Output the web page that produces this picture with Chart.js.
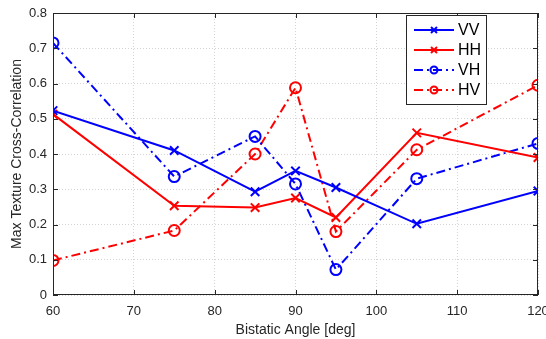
<!DOCTYPE html>
<html>
<head>
<meta charset="utf-8">
<script src="https://cdn.jsdelivr.net/npm/chart.js@4"></script>
<style>
  html, body { margin: 0; padding: 0; background: #fff; }
  #wrap { width: 546px; height: 339px; }
</style>
</head>
<body>
<div id="wrap"><canvas id="chart" width="546" height="339"></canvas></div>
<script>
// Bistatic angles (deg)
const angles = [60, 75, 85, 90, 95, 105, 120];

// Max texture cross-correlation per polarisation
const vv = [0.523, 0.410, 0.293, 0.352, 0.305, 0.202, 0.295];
const hh = [0.513, 0.253, 0.248, 0.275, 0.220, 0.460, 0.390];
const vh = [0.715, 0.336, 0.450, 0.315, 0.072, 0.330, 0.430];
const hv = [0.098, 0.183, 0.400, 0.588, 0.180, 0.412, 0.595];

const seriesNames = ['VV', 'HH', 'VH', 'HV'];

const BLUE = '#0000ff';
const RED = '#ff0000';
const DASHDOT = [9, 4, 2, 4];
const FONT = '"Liberation Sans", Arial, sans-serif';

function pts(vals) {
    return vals.map((v, i) => ({ x: angles[i], y: v }));
}

function makeSet(label, vals, color, marker, dash) {
    return {
        label: label,
        data: pts(vals),
        borderColor: color,
        backgroundColor: color,
        borderWidth: 2,
        borderDash: dash,
        pointStyle: marker,
        pointRadius: marker === 'circle' ? 5.5 : 6,
        pointBorderWidth: 2,
        pointBorderColor: color,
        pointBackgroundColor: marker === 'circle' ? 'rgba(255,255,255,0)' : color,
        tension: 0
    };
}

// box, inward ticks and inset legend like the original figure
const boxPlugin = {
    id: 'boxPlugin',
    afterDatasetsDraw(chart) {
        const { ctx, chartArea: a, scales } = chart;
        ctx.save();
        ctx.strokeStyle = '#262626';
        ctx.lineWidth = 1;
        ctx.setLineDash([]);
        ctx.strokeRect(a.left + 0.5, a.top + 0.5, a.right - a.left - 1, a.bottom - a.top - 1);
        // inward tick marks
        scales.x.ticks.forEach(t => {
            const px = Math.round(scales.x.getPixelForValue(t.value)) + 0.5;
            ctx.beginPath();
            ctx.moveTo(px, a.bottom); ctx.lineTo(px, a.bottom - 5);
            ctx.moveTo(px, a.top); ctx.lineTo(px, a.top + 5);
            ctx.stroke();
        });
        scales.y.ticks.forEach(t => {
            const py = Math.round(scales.y.getPixelForValue(t.value)) + 0.5;
            ctx.beginPath();
            ctx.moveTo(a.left, py); ctx.lineTo(a.left + 5, py);
            ctx.moveTo(a.right, py); ctx.lineTo(a.right - 5, py);
            ctx.stroke();
        });

        // legend
        const lx = 406, ly = 15, lw = 80, lh = 89;
        ctx.fillStyle = '#fff';
        ctx.fillRect(lx, ly, lw, lh);
        ctx.strokeStyle = '#262626';
        ctx.strokeRect(lx + 0.5, ly + 0.5, lw, lh);
        ctx.font = '16px ' + FONT;
        ctx.textBaseline = 'middle';
        chart.data.datasets.forEach((ds, i) => {
            const yy = ly + 15 + i * 20;
            ctx.strokeStyle = ds.borderColor;
            ctx.lineWidth = 2;
            ctx.setLineDash(ds.borderDash || []);
            ctx.beginPath();
            ctx.moveTo(lx + 8, yy); ctx.lineTo(lx + 48, yy);
            ctx.stroke();
            ctx.setLineDash([]);
            ctx.beginPath();
            if (ds.pointStyle === 'circle') {
                ctx.arc(lx + 28, yy, 3.5, 0, Math.PI * 2);
            } else {
                ctx.moveTo(lx + 25, yy - 3); ctx.lineTo(lx + 31, yy + 3);
                ctx.moveTo(lx + 25, yy + 3); ctx.lineTo(lx + 31, yy - 3);
            }
            ctx.stroke();
            ctx.fillStyle = '#000';
            ctx.fillText(ds.label, lx + 52, yy + 1);
        });
        ctx.restore();
    }
};

const chart = new Chart(document.getElementById('chart').getContext('2d'), {
    type: 'line',
    data: {
        datasets: [
            makeSet(seriesNames[0], vv, BLUE, 'crossRot', []),
            makeSet(seriesNames[1], hh, RED, 'crossRot', []),
            makeSet(seriesNames[2], vh, BLUE, 'circle', DASHDOT),
            makeSet(seriesNames[3], hv, RED, 'circle', DASHDOT)
        ]
    },
    options: {
        responsive: false,
        animation: false,
        layout: { padding: { left: 9, right: 6, top: 13, bottom: 0 } },
        plugins: {
            legend: { display: false },
            tooltip: { enabled: false }
        },
        scales: {
            x: {
                type: 'linear',
                min: 60,
                max: 120,
                ticks: {
                    stepSize: 10,
                    color: '#262626',
                    font: { family: FONT, size: 13 },
                    padding: 9
                },
                grid: {
                    color: '#d4d4d4',
                    drawTicks: false
                },
                border: { display: false, dash: [1, 2] },
                title: {
                    display: true,
                    text: 'Bistatic Angle [deg]',
                    color: '#262626',
                    font: { family: FONT, size: 14 },
                    padding: { top: 2, bottom: 0 }
                },
                afterFit: s => { s.height = 44; s.paddingLeft = 0; s.paddingRight = 0; }
            },
            y: {
                min: 0,
                max: 0.8,
                ticks: {
                    stepSize: 0.1,
                    color: '#262626',
                    font: { family: FONT, size: 13 },
                    padding: 6
                },
                grid: {
                    color: '#d4d4d4',
                    drawTicks: false
                },
                border: { display: false, dash: [1, 2] },
                title: {
                    display: true,
                    text: 'Max Texture Cross-Correlation',
                    color: '#262626',
                    font: { family: FONT, size: 14 },
                    padding: { top: 0, bottom: 2 }
                },
                afterFit: s => { s.width = 44; s.paddingTop = 0; s.paddingBottom = 0; }
            }
        }
    },
    plugins: [boxPlugin]
});
</script>
</body>
</html>
